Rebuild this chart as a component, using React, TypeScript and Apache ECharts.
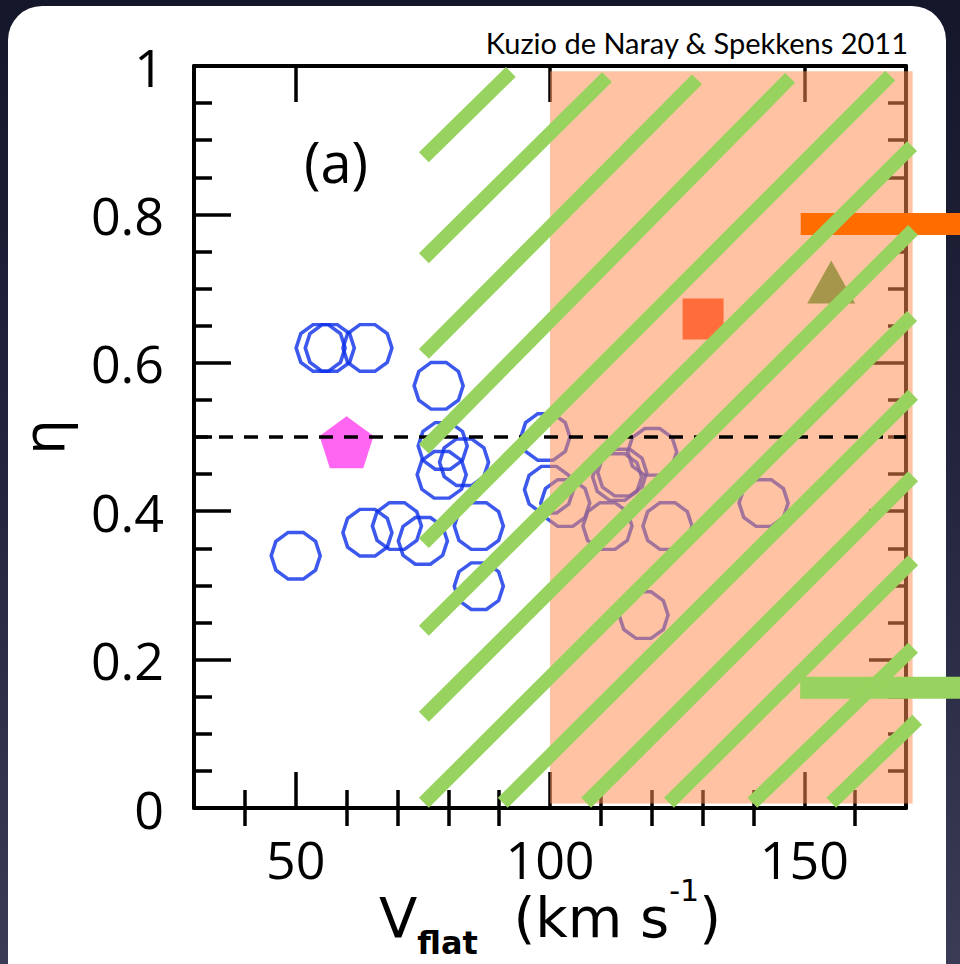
import React, { useEffect, useRef } from 'react';
import * as echarts from 'echarts';

// ---- axes ----
const X_MIN = 30;
const X_MAX = 170;
const X_MAJOR_TICKS = [50, 100, 150];
const X_MINOR_TICKS = [40, 60, 70, 80, 90, 110, 120, 130, 140, 160];
const Y_MIN = 0;
const Y_MAX = 1;
const Y_INTERVAL = 0.2;

// ---- data: [Vflat (km/s), eta] ----
const galaxies: [number, number][] = [
  [50.0, 0.34],
  [54.9, 0.62],
  [56.7, 0.62],
  [64.1, 0.62],
  [78.1, 0.569],
  [78.9, 0.488],
  [83.1, 0.466],
  [78.7, 0.449],
  [64.1, 0.371],
  [69.9, 0.38],
  [75.0, 0.36],
  [86.0, 0.38],
  [86.0, 0.299],
  [99.1, 0.5],
  [99.8, 0.429],
  [120.1, 0.48],
  [114.2, 0.452],
  [113.2, 0.446],
  [103.0, 0.411],
  [111.3, 0.38],
  [123.1, 0.38],
  [142.0, 0.411],
  [118.4, 0.26],
];
const pentagonPoint: [number, number][] = [[60.0, 0.493]];
const squarePoint: [number, number][] = [[130.1, 0.659]];
const trianglePoint: [number, number][] = [[155.3, 0.709]];
const etaThreshold = 0.5;

// shaded region [x0, y0, x1, y1]
const shadedRegion: number[][] = [[100, 0.006, 171.3, 0.993]];

// hatch segments [x1, y1, x2, y2]
const hatchSegments: number[][] = [
  [75.2, 0.877, 92.3, 0.992],
  [75.2, 0.741, 111.2, 0.985],
  [75.2, 0.612, 128.9, 0.982],
  [75.2, 0.484, 147.2, 0.984],
  [75.2, 0.357, 166.9, 0.987],
  [75.2, 0.239, 171.2, 0.892],
  [75.2, 0.123, 171.4, 0.779],
  [75.2, 0.007, 171.2, 0.663],
  [90.7, 0.007, 171.4, 0.557],
  [107.1, 0.007, 171.4, 0.447],
  [123.4, 0.007, 171.4, 0.334],
  [139.8, 0.007, 171.4, 0.216],
  [155.3, 0.007, 172.2, 0.119],
];

// annotation bars [x0, x1, y]
const annotationBars: number[][] = [
  [149.3, 180.8, 0.787],
  [149.2, 180.8, 0.162],
];
const annotationColors = ['#FF6D00', '#97D35E'];

const FONT = 'Open Sans';
const NAME_FONT = 'DejaVu Sans';

const DECAGON =
  'path://' +
  Array.from({ length: 10 }, (_, k) => {
    const a = (k * Math.PI) / 5;
    return `${k ? 'L' : 'M'}${Math.cos(a).toFixed(4)},${Math.sin(a).toFixed(4)}`;
  }).join(' ') +
  ' Z';
const PENTAGON = 'path://M0,-1 L0.9511,-0.309 L0.5878,0.809 L-0.5878,0.809 L-0.9511,-0.309 Z';

export default function App() {
  const ref = useRef<HTMLDivElement>(null);

  useEffect(() => {
    if (!ref.current) return;
    const chart = echarts.init(ref.current, undefined, { renderer: 'svg' });

    const tickStyle = { color: '#000', width: 3.5 };
    const baseX = { type: 'value', min: X_MIN, max: X_MAX, splitLine: { show: false } };
    const baseY = { type: 'value', min: Y_MIN, max: Y_MAX, interval: Y_INTERVAL, splitLine: { show: false } };

    const option: any = {
      animation: false,
      backgroundColor: 'transparent',
      grid: { left: 194, right: 54, top: 66, bottom: 156, containLabel: false, outerBoundsMode: 'none' },
      graphic: [
        {
          type: 'text',
          x: 908,
          y: 42,
          style: {
            text: 'Kuzio de Naray & Spekkens 2011',
            align: 'right',
            verticalAlign: 'middle',
            fontSize: 29,
            fontFamily: 'Lato',
            fill: '#000',
          },
          z: 10,
        },
        {
          type: 'text',
          x: 336,
          y: 161,
          style: {
            text: '(a)',
            align: 'center',
            verticalAlign: 'middle',
            fontSize: 56,
            fontFamily: FONT,
            fill: '#000',
          },
          z: 10,
        },
      ],
      xAxis: [
        {
          ...baseX,
          position: 'bottom',
          axisLine: { show: true, onZero: false, lineStyle: { color: '#000', width: 4 } },
          axisTick: { show: true, inside: true, length: 36, customValues: X_MAJOR_TICKS, lineStyle: tickStyle },
          axisLabel: {
            show: true,
            customValues: X_MAJOR_TICKS,
            margin: 28,
            lineHeight: 44,
            fontSize: 52,
            fontFamily: FONT,
            color: '#000',
          },
          name: '{v|V}{sub|flat}{t|  (km s}{sup|-1}{t|)}',
          nameLocation: 'middle',
          nameGap: 67,
          nameMoveOverlap: false,
          nameTextStyle: {
            lineHeight: 84,
            rich: {
              v: { fontSize: 56, fontFamily: NAME_FONT, color: '#000', lineHeight: 84 },
              t: { fontSize: 56, fontFamily: NAME_FONT, color: '#000', lineHeight: 84 },
              sub: { fontSize: 32, fontFamily: NAME_FONT, fontWeight: 'bold', color: '#000', lineHeight: 2, verticalAlign: 'bottom' },
              sup: { fontSize: 30, fontFamily: NAME_FONT, color: '#000', lineHeight: 64, verticalAlign: 'top' },
            },
          },
        },
        {
          ...baseX,
          position: 'bottom',
          axisLine: { show: false },
          axisTick: { show: true, inside: true, length: 18, customValues: X_MINOR_TICKS, lineStyle: tickStyle },
          axisLabel: { show: false },
        },
        {
          ...baseX,
          position: 'top',
          axisLine: { show: true, onZero: false, lineStyle: { color: '#000', width: 4 } },
          axisTick: { show: true, inside: true, length: 36, customValues: X_MAJOR_TICKS, lineStyle: tickStyle },
          axisLabel: { show: false },
        },
        {
          ...baseX,
          position: 'top',
          axisLine: { show: false },
          axisTick: { show: true, inside: true, length: 18, customValues: X_MINOR_TICKS, lineStyle: tickStyle },
          axisLabel: { show: false },
        },
      ],
      yAxis: [
        {
          ...baseY,
          position: 'left',
          axisLine: { show: true, onZero: false, lineStyle: { color: '#000', width: 4 } },
          axisTick: { show: true, inside: true, length: 37, lineStyle: tickStyle },
          minorTick: { show: true, splitNumber: 4, length: 18, lineStyle: tickStyle },
          axisLabel: { show: true, margin: 30, fontSize: 52, fontFamily: FONT, color: '#000' },
          name: 'η',
          nameLocation: 'middle',
          nameRotate: 90,
          nameGap: 124,
          nameMoveOverlap: false,
          nameTextStyle: { fontSize: 58, fontFamily: FONT, color: '#000' },
        },
        {
          ...baseY,
          position: 'right',
          axisLine: { show: true, onZero: false, lineStyle: { color: '#000', width: 4 } },
          axisTick: { show: true, inside: true, length: 37, lineStyle: tickStyle },
          minorTick: { show: true, splitNumber: 4, length: 18, lineStyle: tickStyle },
          axisLabel: { show: false },
        },
      ],
      series: [
        {
          type: 'scatter',
          z: 2,
          data: galaxies,
          symbol: DECAGON,
          symbolSize: [49, 46.6],
          itemStyle: { color: 'transparent', borderColor: '#0b2ee8', borderWidth: 3.5 },
          silent: true,
          markLine: {
            silent: true,
            symbol: 'none',
            label: { show: false },
            lineStyle: { color: '#000', width: 3.5, type: [14, 11] },
            data: [{ yAxis: etaThreshold }],
          },
        },
        {
          type: 'scatter',
          z: 2,
          data: pentagonPoint,
          symbol: PENTAGON,
          symbolSize: [54, 52],
          itemStyle: { color: '#FF40EE' },
          silent: true,
        },
        {
          type: 'custom',
          z: 3,
          silent: true,
          data: shadedRegion,
          renderItem: (_p: any, api: any) => {
            const a = api.coord([api.value(0), api.value(3)]);
            const b = api.coord([api.value(2), api.value(1)]);
            return {
              type: 'rect',
              shape: { x: a[0], y: a[1], width: b[0] - a[0], height: b[1] - a[1] },
              style: { fill: 'rgba(255,142,82,0.53)' },
            };
          },
        },
        {
          type: 'scatter',
          z: 4,
          data: squarePoint,
          symbol: 'rect',
          symbolSize: 41,
          itemStyle: { color: '#FF5722' },
          silent: true,
        },
        {
          type: 'scatter',
          z: 4,
          data: trianglePoint,
          symbol: 'triangle',
          symbolSize: [48, 43],
          itemStyle: { color: '#8E8B34' },
          silent: true,
        },
        {
          type: 'custom',
          z: 4,
          silent: true,
          data: annotationBars,
          renderItem: (p: any, api: any) => {
            const a = api.coord([api.value(0), api.value(2)]);
            const b = api.coord([api.value(1), api.value(2)]);
            return {
              type: 'rect',
              shape: { x: a[0], y: a[1] - 11, width: b[0] - a[0], height: 22 },
              style: { fill: annotationColors[p.dataIndex] },
            };
          },
        },
        {
          type: 'custom',
          z: 5,
          silent: true,
          data: hatchSegments,
          renderItem: (_p: any, api: any) => {
            const a = api.coord([api.value(0), api.value(1)]);
            const b = api.coord([api.value(2), api.value(3)]);
            return {
              type: 'line',
              shape: { x1: a[0], y1: a[1], x2: b[0], y2: b[1] },
              style: { stroke: '#97D35E', lineWidth: 14, lineCap: 'butt' },
            };
          },
        },
      ],
    };

    chart.setOption(option);
    return () => chart.dispose();
  }, []);

  return (
    <div
      style={{
        position: 'fixed',
        left: 0,
        top: 0,
        width: 960,
        height: 964,
        overflow: 'hidden',
        background: 'linear-gradient(180deg, #14162a 0%, #262842 55%, #3a3c55 100%)',
      }}
    >
      <div
        style={{
          position: 'absolute',
          left: 8,
          top: 6,
          width: 938,
          height: 1010,
          borderRadius: 34,
          background: '#ffffff',
        }}
      />
      <div ref={ref} style={{ position: 'absolute', left: 0, top: 0, width: 960, height: 964 }} />
    </div>
  );
}
